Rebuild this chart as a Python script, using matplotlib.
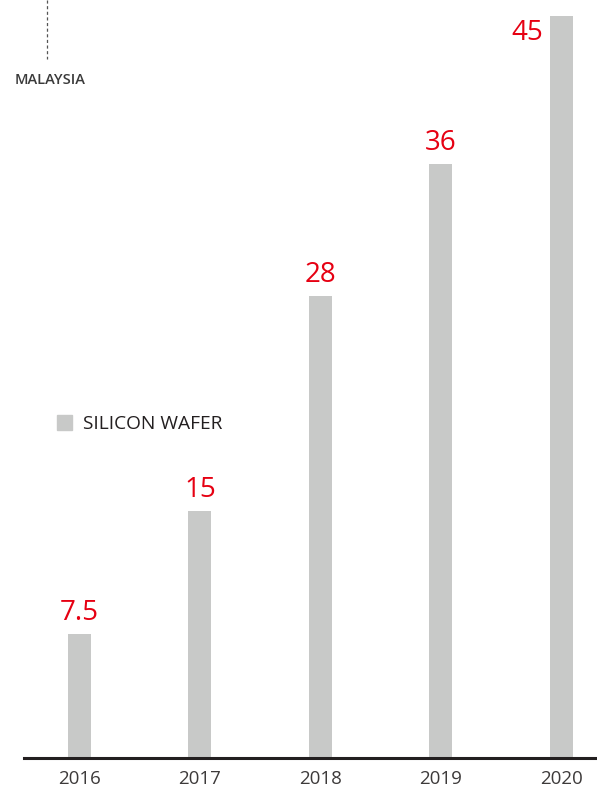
import matplotlib.pyplot as plt
from matplotlib.lines import Line2D

# data
years = ['2016', '2017', '2018', '2019', '2020']
values = [7.5, 15, 28, 36, 45]
labels = ['7.5', '15', '28', '36', '45']

W, H = 597, 795
plt.rcParams['font.family'] = ['Open Sans', 'DejaVu Sans']

fig = plt.figure(figsize=(W / 100, H / 100), dpi=100)
# axes in pixel terms: left 24, right 597, baseline 758, top of 45 at 16
ax = fig.add_axes([24 / W, (H - 758) / H, (597 - 24) / W, (758 - 16) / H])

x = list(range(len(years)))
ax.bar(x, values, width=0.19, color='#c8c9c8', zorder=2)

ax.set_xlim(-0.461, 4.298)
ax.set_ylim(0, 45)
for s in ['top', 'right', 'left']:
    ax.spines[s].set_visible(False)
ax.spines['bottom'].set_linewidth(2.2)
ax.spines['bottom'].set_color('#231f20')
ax.spines['bottom'].set_zorder(3)
ax.set_yticks([])
ax.set_xticks(x)
ax.set_xticklabels(years, fontsize=13.5, color='#3d3a3a')
ax.tick_params(axis='x', length=0, pad=9)

red = '#e60012'
for i, (v, lab) in enumerate(zip(values, labels)):
    if i == len(values) - 1:
        # tallest bar: label sits to the left of the bar top
        ax.annotate(lab, (i, v), xytext=(-34, -17), textcoords='offset pixels',
                    ha='center', va='center', fontsize=20, color=red)
    else:
        ax.annotate(lab, (i, v), xytext=(0, 7), textcoords='offset pixels',
                    ha='center', va='bottom', fontsize=20, color=red)

# dashed marker line and country label
fig.add_artist(Line2D([47 / W, 47 / W], [1, (H - 59) / H], color='#555555',
                      lw=0.9, linestyle=(0, (2.5, 2))))
fig.text(15 / W, (H - 84) / H, 'MALAYSIA', fontsize=10.5, color='#3a3a3a',
         ha='left', va='baseline', fontweight='semibold')

# legend
fig.patches.append(plt.Rectangle((57 / W, (H - 430) / H), 15 / W, 15 / H,
                                 transform=fig.transFigure, color='#c8c9c8'))
fig.text(83 / W, (H - 429) / H, 'SILICON WAFER', fontsize=13.8, color='#231f20',
         ha='left', va='baseline')

fig.savefig('out.png', dpi=100)
